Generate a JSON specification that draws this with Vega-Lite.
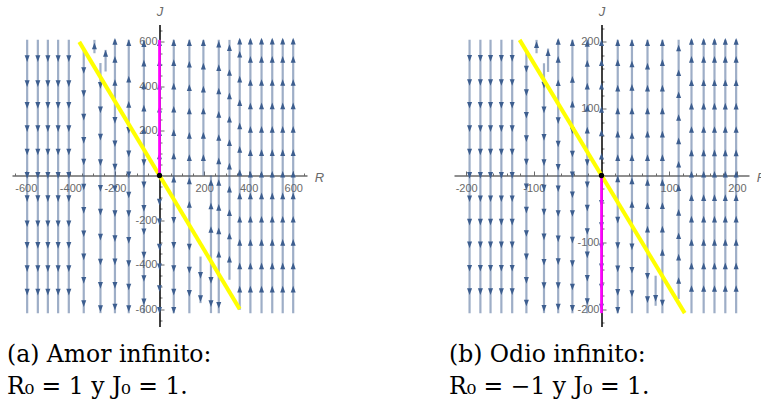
{
"$schema": "https://vega.github.io/schema/vega-lite/v6.json",
"padding": {"left": 7, "top": 5.5, "right": 0, "bottom": 0},
"background": "white",
"config": {"view": {"stroke": null}, "axis": {"grid": false}},
"spacing": 147,
"bounds": "flush",
"resolve": {"scale": {"x": "independent", "y": "independent", "shape": "independent"}},
"datasets": {
"d": [
{"p":"a","k":"s","R":-594,"J":609,"J2":-618},
{"p":"a","k":"s","R":-546,"J":609,"J2":-618},
{"p":"a","k":"s","R":-501,"J":609,"J2":-618},
{"p":"a","k":"s","R":-455,"J":609,"J2":-618},
{"p":"a","k":"s","R":-407,"J":609,"J2":-618},
{"p":"a","k":"s","R":-340,"J":564,"J2":-618},
{"p":"a","k":"s","R":-292,"J":609,"J2":549},
{"p":"a","k":"s","R":-265,"J":505,"J2":-618},
{"p":"a","k":"s","R":-242,"J":564,"J2":467},
{"p":"a","k":"s","R":-200,"J":609,"J2":-618},
{"p":"a","k":"s","R":-138,"J":609,"J2":-618},
{"p":"a","k":"s","R":-70,"J":609,"J2":-618},
{"p":"a","k":"s","R":64,"J":609,"J2":-618},
{"p":"a","k":"s","R":134,"J":609,"J2":-618},
{"p":"a","k":"s","R":197,"J":609,"J2":0},
{"p":"a","k":"s","R":184,"J":-364,"J2":-573},
{"p":"a","k":"s","R":231,"J":0,"J2":-618},
{"p":"a","k":"s","R":266,"J":609,"J2":-618},
{"p":"a","k":"s","R":314,"J":609,"J2":-468},
{"p":"a","k":"s","R":360,"J":609,"J2":-603},
{"p":"a","k":"s","R":408,"J":609,"J2":-618},
{"p":"a","k":"s","R":458,"J":609,"J2":-618},
{"p":"a","k":"s","R":506,"J":609,"J2":-618},
{"p":"a","k":"s","R":553,"J":609,"J2":-618},
{"p":"a","k":"s","R":600,"J":609,"J2":-618},

{"p":"a","k":"a","R":-594,"J":527,"dir":"dn"},{"p":"a","k":"a","R":-594,"J":415,"dir":"dn"},{"p":"a","k":"a","R":-594,"J":317,"dir":"dn"},{"p":"a","k":"a","R":-594,"J":213,"dir":"dn"},{"p":"a","k":"a","R":-594,"J":108,"dir":"dn"},{"p":"a","k":"a","R":-594,"J":3,"dir":"dn"},{"p":"a","k":"a","R":-594,"J":-101,"dir":"dn"},{"p":"a","k":"a","R":-594,"J":-214,"dir":"dn"},{"p":"a","k":"a","R":-594,"J":-311,"dir":"dn"},{"p":"a","k":"a","R":-594,"J":-416,"dir":"dn"},{"p":"a","k":"a","R":-594,"J":-521,"dir":"dn"},
{"p":"a","k":"a","R":-546,"J":527,"dir":"dn"},{"p":"a","k":"a","R":-546,"J":415,"dir":"dn"},{"p":"a","k":"a","R":-546,"J":317,"dir":"dn"},{"p":"a","k":"a","R":-546,"J":213,"dir":"dn"},{"p":"a","k":"a","R":-546,"J":108,"dir":"dn"},{"p":"a","k":"a","R":-546,"J":3,"dir":"dn"},{"p":"a","k":"a","R":-546,"J":-101,"dir":"dn"},{"p":"a","k":"a","R":-546,"J":-214,"dir":"dn"},{"p":"a","k":"a","R":-546,"J":-311,"dir":"dn"},{"p":"a","k":"a","R":-546,"J":-416,"dir":"dn"},{"p":"a","k":"a","R":-546,"J":-521,"dir":"dn"},
{"p":"a","k":"a","R":-501,"J":527,"dir":"dn"},{"p":"a","k":"a","R":-501,"J":415,"dir":"dn"},{"p":"a","k":"a","R":-501,"J":317,"dir":"dn"},{"p":"a","k":"a","R":-501,"J":213,"dir":"dn"},{"p":"a","k":"a","R":-501,"J":108,"dir":"dn"},{"p":"a","k":"a","R":-501,"J":3,"dir":"dn"},{"p":"a","k":"a","R":-501,"J":-101,"dir":"dn"},{"p":"a","k":"a","R":-501,"J":-214,"dir":"dn"},{"p":"a","k":"a","R":-501,"J":-311,"dir":"dn"},{"p":"a","k":"a","R":-501,"J":-416,"dir":"dn"},{"p":"a","k":"a","R":-501,"J":-521,"dir":"dn"},
{"p":"a","k":"a","R":-455,"J":527,"dir":"dn"},{"p":"a","k":"a","R":-455,"J":415,"dir":"dn"},{"p":"a","k":"a","R":-455,"J":317,"dir":"dn"},{"p":"a","k":"a","R":-455,"J":213,"dir":"dn"},{"p":"a","k":"a","R":-455,"J":108,"dir":"dn"},{"p":"a","k":"a","R":-455,"J":3,"dir":"dn"},{"p":"a","k":"a","R":-455,"J":-101,"dir":"dn"},{"p":"a","k":"a","R":-455,"J":-214,"dir":"dn"},{"p":"a","k":"a","R":-455,"J":-311,"dir":"dn"},{"p":"a","k":"a","R":-455,"J":-416,"dir":"dn"},{"p":"a","k":"a","R":-455,"J":-521,"dir":"dn"},
{"p":"a","k":"a","R":-407,"J":527,"dir":"dn"},{"p":"a","k":"a","R":-407,"J":415,"dir":"dn"},{"p":"a","k":"a","R":-407,"J":317,"dir":"dn"},{"p":"a","k":"a","R":-407,"J":213,"dir":"dn"},{"p":"a","k":"a","R":-407,"J":108,"dir":"dn"},{"p":"a","k":"a","R":-407,"J":3,"dir":"dn"},{"p":"a","k":"a","R":-407,"J":-101,"dir":"dn"},{"p":"a","k":"a","R":-407,"J":-214,"dir":"dn"},{"p":"a","k":"a","R":-407,"J":-311,"dir":"dn"},{"p":"a","k":"a","R":-407,"J":-416,"dir":"dn"},{"p":"a","k":"a","R":-407,"J":-521,"dir":"dn"},
{"p":"a","k":"a","R":-340,"J":474,"dir":"dn"},{"p":"a","k":"a","R":-340,"J":370,"dir":"dn"},{"p":"a","k":"a","R":-340,"J":265,"dir":"dn"},{"p":"a","k":"a","R":-340,"J":160,"dir":"dn"},{"p":"a","k":"a","R":-340,"J":63,"dir":"dn"},{"p":"a","k":"a","R":-340,"J":-49,"dir":"dn"},{"p":"a","k":"a","R":-340,"J":-154,"dir":"dn"},{"p":"a","k":"a","R":-340,"J":-259,"dir":"dn"},{"p":"a","k":"a","R":-340,"J":-363,"dir":"dn"},{"p":"a","k":"a","R":-340,"J":-468,"dir":"dn"},{"p":"a","k":"a","R":-340,"J":-573,"dir":"dn"},
{"p":"a","k":"a","R":-292,"J":579,"dir":"up"},
{"p":"a","k":"a","R":-265,"J":407,"dir":"dn"},{"p":"a","k":"a","R":-265,"J":297,"dir":"dn"},{"p":"a","k":"a","R":-265,"J":175,"dir":"dn"},{"p":"a","k":"a","R":-265,"J":60,"dir":"dn"},{"p":"a","k":"a","R":-265,"J":-55,"dir":"dn"},{"p":"a","k":"a","R":-265,"J":-162,"dir":"dn"},{"p":"a","k":"a","R":-265,"J":-274,"dir":"dn"},{"p":"a","k":"a","R":-265,"J":-386,"dir":"dn"},{"p":"a","k":"a","R":-265,"J":-491,"dir":"dn"},{"p":"a","k":"a","R":-265,"J":-595,"dir":"dn"},
{"p":"a","k":"a","R":-242,"J":546,"dir":"up"},
{"p":"a","k":"a","R":-200,"J":600,"dir":"up"},{"p":"a","k":"a","R":-200,"J":519,"dir":"up"},{"p":"a","k":"a","R":-200,"J":415,"dir":"up"},{"p":"a","k":"a","R":-200,"J":250,"dir":"dn"},{"p":"a","k":"a","R":-200,"J":145,"dir":"dn"},{"p":"a","k":"a","R":-200,"J":40,"dir":"dn"},{"p":"a","k":"a","R":-200,"J":-57,"dir":"dn"},{"p":"a","k":"a","R":-200,"J":-169,"dir":"dn"},{"p":"a","k":"a","R":-200,"J":-281,"dir":"dn"},{"p":"a","k":"a","R":-200,"J":-385,"dir":"dn"},{"p":"a","k":"a","R":-200,"J":-491,"dir":"dn"},{"p":"a","k":"a","R":-200,"J":-588,"dir":"dn"},
{"p":"a","k":"a","R":-138,"J":594,"dir":"up"},{"p":"a","k":"a","R":-138,"J":430,"dir":"up"},{"p":"a","k":"a","R":-138,"J":317,"dir":"up"},{"p":"a","k":"a","R":-138,"J":205,"dir":"dn"},{"p":"a","k":"a","R":-138,"J":100,"dir":"dn"},{"p":"a","k":"a","R":-138,"J":5,"dir":"dn"},{"p":"a","k":"a","R":-138,"J":-85,"dir":"dn"},{"p":"a","k":"a","R":-138,"J":-169,"dir":"dn"},{"p":"a","k":"a","R":-138,"J":-289,"dir":"dn"},{"p":"a","k":"a","R":-138,"J":-393,"dir":"dn"},{"p":"a","k":"a","R":-138,"J":-498,"dir":"dn"},{"p":"a","k":"a","R":-138,"J":-595,"dir":"dn"},
{"p":"a","k":"a","R":-70,"J":590,"dir":"up"},{"p":"a","k":"a","R":-70,"J":502,"dir":"up"},{"p":"a","k":"a","R":-70,"J":400,"dir":"up"},{"p":"a","k":"a","R":-70,"J":300,"dir":"up"},{"p":"a","k":"a","R":-70,"J":200,"dir":"up"},{"p":"a","k":"a","R":-70,"J":60,"dir":"dn"},{"p":"a","k":"a","R":-70,"J":-40,"dir":"dn"},{"p":"a","k":"a","R":-70,"J":-145,"dir":"dn"},{"p":"a","k":"a","R":-70,"J":-250,"dir":"dn"},{"p":"a","k":"a","R":-70,"J":-355,"dir":"dn"},{"p":"a","k":"a","R":-70,"J":-460,"dir":"dn"},{"p":"a","k":"a","R":-70,"J":-565,"dir":"dn"},
{"p":"a","k":"a","R":0,"J":594,"dir":"up"},{"p":"a","k":"a","R":0,"J":504,"dir":"up"},{"p":"a","k":"a","R":0,"J":399,"dir":"up"},{"p":"a","k":"a","R":0,"J":295,"dir":"up"},{"p":"a","k":"a","R":0,"J":190,"dir":"up"},{"p":"a","k":"a","R":0,"J":85,"dir":"up"},{"p":"a","k":"a","R":0,"J":-117,"dir":"dn"},{"p":"a","k":"a","R":0,"J":-206,"dir":"dn"},{"p":"a","k":"a","R":0,"J":-319,"dir":"dn"},{"p":"a","k":"a","R":0,"J":-408,"dir":"dn"},{"p":"a","k":"a","R":0,"J":-505,"dir":"dn"},{"p":"a","k":"a","R":0,"J":-603,"dir":"dn"},
{"p":"a","k":"a","R":64,"J":594,"dir":"up"},{"p":"a","k":"a","R":64,"J":504,"dir":"up"},{"p":"a","k":"a","R":64,"J":399,"dir":"up"},{"p":"a","k":"a","R":64,"J":295,"dir":"up"},{"p":"a","k":"a","R":64,"J":190,"dir":"up"},{"p":"a","k":"a","R":64,"J":85,"dir":"up"},{"p":"a","k":"a","R":64,"J":-19,"dir":"up"},{"p":"a","k":"a","R":64,"J":-199,"dir":"dn"},{"p":"a","k":"a","R":64,"J":-311,"dir":"dn"},{"p":"a","k":"a","R":64,"J":-416,"dir":"dn"},{"p":"a","k":"a","R":64,"J":-521,"dir":"dn"},{"p":"a","k":"a","R":64,"J":-603,"dir":"dn"},
{"p":"a","k":"a","R":134,"J":594,"dir":"up"},{"p":"a","k":"a","R":134,"J":497,"dir":"up"},{"p":"a","k":"a","R":134,"J":392,"dir":"up"},{"p":"a","k":"a","R":134,"J":287,"dir":"up"},{"p":"a","k":"a","R":134,"J":178,"dir":"up"},{"p":"a","k":"a","R":134,"J":78,"dir":"up"},{"p":"a","k":"a","R":134,"J":-27,"dir":"up"},{"p":"a","k":"a","R":134,"J":-132,"dir":"up"},{"p":"a","k":"a","R":134,"J":-319,"dir":"dn"},{"p":"a","k":"a","R":134,"J":-422,"dir":"dn"},{"p":"a","k":"a","R":134,"J":-527,"dir":"dn"},
{"p":"a","k":"a","R":197,"J":594,"dir":"up"},{"p":"a","k":"a","R":197,"J":489,"dir":"up"},{"p":"a","k":"a","R":197,"J":385,"dir":"up"},{"p":"a","k":"a","R":197,"J":287,"dir":"up"},{"p":"a","k":"a","R":197,"J":178,"dir":"up"},{"p":"a","k":"a","R":197,"J":78,"dir":"up"},
{"p":"a","k":"a","R":184,"J":-446,"dir":"dn"},{"p":"a","k":"a","R":184,"J":-550,"dir":"dn"},
{"p":"a","k":"a","R":231,"J":-34,"dir":"up"},{"p":"a","k":"a","R":231,"J":-139,"dir":"up"},{"p":"a","k":"a","R":231,"J":-245,"dir":"up"},{"p":"a","k":"a","R":231,"J":-468,"dir":"dn"},{"p":"a","k":"a","R":231,"J":-573,"dir":"dn"},
{"p":"a","k":"a","R":266,"J":587,"dir":"up"},{"p":"a","k":"a","R":266,"J":482,"dir":"up"},{"p":"a","k":"a","R":266,"J":377,"dir":"up"},{"p":"a","k":"a","R":266,"J":272,"dir":"up"},{"p":"a","k":"a","R":266,"J":168,"dir":"up"},{"p":"a","k":"a","R":266,"J":63,"dir":"up"},{"p":"a","k":"a","R":266,"J":-34,"dir":"up"},{"p":"a","k":"a","R":266,"J":-146,"dir":"up"},{"p":"a","k":"a","R":266,"J":-251,"dir":"up"},{"p":"a","k":"a","R":266,"J":-356,"dir":"up"},{"p":"a","k":"a","R":266,"J":-580,"dir":"dn"},
{"p":"a","k":"a","R":314,"J":572,"dir":"up"},{"p":"a","k":"a","R":314,"J":460,"dir":"up"},{"p":"a","k":"a","R":314,"J":355,"dir":"up"},{"p":"a","k":"a","R":314,"J":250,"dir":"up"},{"p":"a","k":"a","R":314,"J":145,"dir":"up"},{"p":"a","k":"a","R":314,"J":40,"dir":"up"},{"p":"a","k":"a","R":314,"J":-64,"dir":"up"},{"p":"a","k":"a","R":314,"J":-169,"dir":"up"},{"p":"a","k":"a","R":314,"J":-274,"dir":"up"},{"p":"a","k":"a","R":314,"J":-378,"dir":"up"},
{"p":"a","k":"a","R":360,"J":601,"dir":"up"},{"p":"a","k":"a","R":360,"J":542,"dir":"up"},{"p":"a","k":"a","R":360,"J":430,"dir":"up"},{"p":"a","k":"a","R":360,"J":325,"dir":"up"},{"p":"a","k":"a","R":360,"J":220,"dir":"up"},{"p":"a","k":"a","R":360,"J":115,"dir":"up"},{"p":"a","k":"a","R":360,"J":11,"dir":"up"},{"p":"a","k":"a","R":360,"J":-94,"dir":"up"},{"p":"a","k":"a","R":360,"J":-199,"dir":"up"},{"p":"a","k":"a","R":360,"J":-303,"dir":"up"},{"p":"a","k":"a","R":360,"J":-408,"dir":"up"},{"p":"a","k":"a","R":360,"J":-513,"dir":"up"},
{"p":"a","k":"a","R":408,"J":601,"dir":"up"},{"p":"a","k":"a","R":408,"J":519,"dir":"up"},{"p":"a","k":"a","R":408,"J":415,"dir":"up"},{"p":"a","k":"a","R":408,"J":310,"dir":"up"},{"p":"a","k":"a","R":408,"J":205,"dir":"up"},{"p":"a","k":"a","R":408,"J":100,"dir":"up"},{"p":"a","k":"a","R":408,"J":3,"dir":"up"},{"p":"a","k":"a","R":408,"J":-94,"dir":"up"},{"p":"a","k":"a","R":408,"J":-199,"dir":"up"},{"p":"a","k":"a","R":408,"J":-303,"dir":"up"},{"p":"a","k":"a","R":408,"J":-408,"dir":"up"},{"p":"a","k":"a","R":408,"J":-513,"dir":"up"},
{"p":"a","k":"a","R":458,"J":601,"dir":"up"},{"p":"a","k":"a","R":458,"J":519,"dir":"up"},{"p":"a","k":"a","R":458,"J":415,"dir":"up"},{"p":"a","k":"a","R":458,"J":310,"dir":"up"},{"p":"a","k":"a","R":458,"J":205,"dir":"up"},{"p":"a","k":"a","R":458,"J":100,"dir":"up"},{"p":"a","k":"a","R":458,"J":3,"dir":"up"},{"p":"a","k":"a","R":458,"J":-94,"dir":"up"},{"p":"a","k":"a","R":458,"J":-199,"dir":"up"},{"p":"a","k":"a","R":458,"J":-303,"dir":"up"},{"p":"a","k":"a","R":458,"J":-408,"dir":"up"},{"p":"a","k":"a","R":458,"J":-513,"dir":"up"},
{"p":"a","k":"a","R":506,"J":601,"dir":"up"},{"p":"a","k":"a","R":506,"J":519,"dir":"up"},{"p":"a","k":"a","R":506,"J":415,"dir":"up"},{"p":"a","k":"a","R":506,"J":310,"dir":"up"},{"p":"a","k":"a","R":506,"J":205,"dir":"up"},{"p":"a","k":"a","R":506,"J":100,"dir":"up"},{"p":"a","k":"a","R":506,"J":3,"dir":"up"},{"p":"a","k":"a","R":506,"J":-94,"dir":"up"},{"p":"a","k":"a","R":506,"J":-199,"dir":"up"},{"p":"a","k":"a","R":506,"J":-303,"dir":"up"},{"p":"a","k":"a","R":506,"J":-408,"dir":"up"},{"p":"a","k":"a","R":506,"J":-513,"dir":"up"},
{"p":"a","k":"a","R":553,"J":601,"dir":"up"},{"p":"a","k":"a","R":553,"J":519,"dir":"up"},{"p":"a","k":"a","R":553,"J":415,"dir":"up"},{"p":"a","k":"a","R":553,"J":310,"dir":"up"},{"p":"a","k":"a","R":553,"J":205,"dir":"up"},{"p":"a","k":"a","R":553,"J":100,"dir":"up"},{"p":"a","k":"a","R":553,"J":3,"dir":"up"},{"p":"a","k":"a","R":553,"J":-94,"dir":"up"},{"p":"a","k":"a","R":553,"J":-199,"dir":"up"},{"p":"a","k":"a","R":553,"J":-303,"dir":"up"},{"p":"a","k":"a","R":553,"J":-408,"dir":"up"},{"p":"a","k":"a","R":553,"J":-513,"dir":"up"},
{"p":"a","k":"a","R":600,"J":601,"dir":"up"},{"p":"a","k":"a","R":600,"J":519,"dir":"up"},{"p":"a","k":"a","R":600,"J":415,"dir":"up"},{"p":"a","k":"a","R":600,"J":310,"dir":"up"},{"p":"a","k":"a","R":600,"J":205,"dir":"up"},{"p":"a","k":"a","R":600,"J":100,"dir":"up"},{"p":"a","k":"a","R":600,"J":3,"dir":"up"},{"p":"a","k":"a","R":600,"J":-94,"dir":"up"},{"p":"a","k":"a","R":600,"J":-199,"dir":"up"},{"p":"a","k":"a","R":600,"J":-303,"dir":"up"},{"p":"a","k":"a","R":600,"J":-408,"dir":"up"},{"p":"a","k":"a","R":600,"J":-513,"dir":"up"},

{"p":"a","k":"y","R":-360,"J":600},
{"p":"a","k":"y","R":360,"J":-600},
{"p":"a","k":"m","R":0,"J":0,"J2":609},
{"p":"a","k":"o","R":0,"J":0},

{"p":"b","k":"s","R":-195,"J":203,"J2":-206},
{"p":"b","k":"s","R":-179,"J":203,"J2":-206},
{"p":"b","k":"s","R":-164,"J":203,"J2":-206},
{"p":"b","k":"s","R":-148,"J":203,"J2":-206},
{"p":"b","k":"s","R":-132,"J":203,"J2":-206},
{"p":"b","k":"s","R":-111,"J":188,"J2":-206},
{"p":"b","k":"s","R":-96,"J":203,"J2":183},
{"p":"b","k":"s","R":-85,"J":168,"J2":-206},
{"p":"b","k":"s","R":-79,"J":190,"J2":155},
{"p":"b","k":"s","R":-64,"J":203,"J2":-206},
{"p":"b","k":"s","R":-43,"J":203,"J2":-206},
{"p":"b","k":"s","R":-21,"J":203,"J2":-206},
{"p":"b","k":"s","R":24,"J":203,"J2":-206},
{"p":"b","k":"s","R":45,"J":203,"J2":-206},
{"p":"b","k":"s","R":68,"J":203,"J2":-206},
{"p":"b","k":"s","R":80,"J":-150,"J2":-195},
{"p":"b","k":"s","R":90,"J":203,"J2":-206},
{"p":"b","k":"s","R":114,"J":203,"J2":-185},
{"p":"b","k":"s","R":133,"J":203,"J2":-206},
{"p":"b","k":"s","R":151,"J":203,"J2":-206},
{"p":"b","k":"s","R":167,"J":203,"J2":-206},
{"p":"b","k":"s","R":183,"J":203,"J2":-206},
{"p":"b","k":"s","R":199,"J":203,"J2":-206},

{"p":"b","k":"a","R":-195,"J":176,"dir":"dn"},{"p":"b","k":"a","R":-195,"J":140,"dir":"dn"},{"p":"b","k":"a","R":-195,"J":106,"dir":"dn"},{"p":"b","k":"a","R":-195,"J":71,"dir":"dn"},{"p":"b","k":"a","R":-195,"J":36,"dir":"dn"},{"p":"b","k":"a","R":-195,"J":1,"dir":"dn"},{"p":"b","k":"a","R":-195,"J":-34,"dir":"dn"},{"p":"b","k":"a","R":-195,"J":-69,"dir":"dn"},{"p":"b","k":"a","R":-195,"J":-103,"dir":"dn"},{"p":"b","k":"a","R":-195,"J":-138,"dir":"dn"},{"p":"b","k":"a","R":-195,"J":-173,"dir":"dn"},
{"p":"b","k":"a","R":-179,"J":176,"dir":"dn"},{"p":"b","k":"a","R":-179,"J":140,"dir":"dn"},{"p":"b","k":"a","R":-179,"J":106,"dir":"dn"},{"p":"b","k":"a","R":-179,"J":71,"dir":"dn"},{"p":"b","k":"a","R":-179,"J":36,"dir":"dn"},{"p":"b","k":"a","R":-179,"J":1,"dir":"dn"},{"p":"b","k":"a","R":-179,"J":-34,"dir":"dn"},{"p":"b","k":"a","R":-179,"J":-69,"dir":"dn"},{"p":"b","k":"a","R":-179,"J":-103,"dir":"dn"},{"p":"b","k":"a","R":-179,"J":-138,"dir":"dn"},{"p":"b","k":"a","R":-179,"J":-173,"dir":"dn"},
{"p":"b","k":"a","R":-164,"J":176,"dir":"dn"},{"p":"b","k":"a","R":-164,"J":140,"dir":"dn"},{"p":"b","k":"a","R":-164,"J":106,"dir":"dn"},{"p":"b","k":"a","R":-164,"J":71,"dir":"dn"},{"p":"b","k":"a","R":-164,"J":36,"dir":"dn"},{"p":"b","k":"a","R":-164,"J":1,"dir":"dn"},{"p":"b","k":"a","R":-164,"J":-34,"dir":"dn"},{"p":"b","k":"a","R":-164,"J":-69,"dir":"dn"},{"p":"b","k":"a","R":-164,"J":-103,"dir":"dn"},{"p":"b","k":"a","R":-164,"J":-138,"dir":"dn"},{"p":"b","k":"a","R":-164,"J":-173,"dir":"dn"},
{"p":"b","k":"a","R":-148,"J":176,"dir":"dn"},{"p":"b","k":"a","R":-148,"J":140,"dir":"dn"},{"p":"b","k":"a","R":-148,"J":106,"dir":"dn"},{"p":"b","k":"a","R":-148,"J":71,"dir":"dn"},{"p":"b","k":"a","R":-148,"J":36,"dir":"dn"},{"p":"b","k":"a","R":-148,"J":1,"dir":"dn"},{"p":"b","k":"a","R":-148,"J":-34,"dir":"dn"},{"p":"b","k":"a","R":-148,"J":-69,"dir":"dn"},{"p":"b","k":"a","R":-148,"J":-103,"dir":"dn"},{"p":"b","k":"a","R":-148,"J":-138,"dir":"dn"},{"p":"b","k":"a","R":-148,"J":-173,"dir":"dn"},
{"p":"b","k":"a","R":-132,"J":176,"dir":"dn"},{"p":"b","k":"a","R":-132,"J":140,"dir":"dn"},{"p":"b","k":"a","R":-132,"J":106,"dir":"dn"},{"p":"b","k":"a","R":-132,"J":71,"dir":"dn"},{"p":"b","k":"a","R":-132,"J":36,"dir":"dn"},{"p":"b","k":"a","R":-132,"J":1,"dir":"dn"},{"p":"b","k":"a","R":-132,"J":-34,"dir":"dn"},{"p":"b","k":"a","R":-132,"J":-69,"dir":"dn"},{"p":"b","k":"a","R":-132,"J":-103,"dir":"dn"},{"p":"b","k":"a","R":-132,"J":-138,"dir":"dn"},{"p":"b","k":"a","R":-132,"J":-173,"dir":"dn"},
{"p":"b","k":"a","R":-111,"J":160,"dir":"dn"},{"p":"b","k":"a","R":-111,"J":125,"dir":"dn"},{"p":"b","k":"a","R":-111,"J":91,"dir":"dn"},{"p":"b","k":"a","R":-111,"J":56,"dir":"dn"},{"p":"b","k":"a","R":-111,"J":21,"dir":"dn"},{"p":"b","k":"a","R":-111,"J":-16,"dir":"dn"},{"p":"b","k":"a","R":-111,"J":-51,"dir":"dn"},{"p":"b","k":"a","R":-111,"J":-86,"dir":"dn"},{"p":"b","k":"a","R":-111,"J":-121,"dir":"dn"},{"p":"b","k":"a","R":-111,"J":-156,"dir":"dn"},{"p":"b","k":"a","R":-111,"J":-190,"dir":"dn"},
{"p":"b","k":"a","R":-96,"J":195,"dir":"up"},
{"p":"b","k":"a","R":-85,"J":136,"dir":"dn"},{"p":"b","k":"a","R":-85,"J":99,"dir":"dn"},{"p":"b","k":"a","R":-85,"J":58,"dir":"dn"},{"p":"b","k":"a","R":-85,"J":20,"dir":"dn"},{"p":"b","k":"a","R":-85,"J":-18,"dir":"dn"},{"p":"b","k":"a","R":-85,"J":-54,"dir":"dn"},{"p":"b","k":"a","R":-85,"J":-91,"dir":"dn"},{"p":"b","k":"a","R":-85,"J":-129,"dir":"dn"},{"p":"b","k":"a","R":-85,"J":-164,"dir":"dn"},{"p":"b","k":"a","R":-85,"J":-198,"dir":"dn"},
{"p":"b","k":"a","R":-79,"J":183,"dir":"up"},
{"p":"b","k":"a","R":-64,"J":200,"dir":"up"},{"p":"b","k":"a","R":-64,"J":173,"dir":"up"},{"p":"b","k":"a","R":-64,"J":138,"dir":"up"},{"p":"b","k":"a","R":-64,"J":83,"dir":"dn"},{"p":"b","k":"a","R":-64,"J":48,"dir":"dn"},{"p":"b","k":"a","R":-64,"J":13,"dir":"dn"},{"p":"b","k":"a","R":-64,"J":-19,"dir":"dn"},{"p":"b","k":"a","R":-64,"J":-56,"dir":"dn"},{"p":"b","k":"a","R":-64,"J":-94,"dir":"dn"},{"p":"b","k":"a","R":-64,"J":-128,"dir":"dn"},{"p":"b","k":"a","R":-64,"J":-164,"dir":"dn"},{"p":"b","k":"a","R":-64,"J":-196,"dir":"dn"},
{"p":"b","k":"a","R":-43,"J":198,"dir":"up"},{"p":"b","k":"a","R":-43,"J":143,"dir":"up"},{"p":"b","k":"a","R":-43,"J":106,"dir":"up"},{"p":"b","k":"a","R":-43,"J":68,"dir":"dn"},{"p":"b","k":"a","R":-43,"J":33,"dir":"dn"},{"p":"b","k":"a","R":-43,"J":2,"dir":"dn"},{"p":"b","k":"a","R":-43,"J":-28,"dir":"dn"},{"p":"b","k":"a","R":-43,"J":-56,"dir":"dn"},{"p":"b","k":"a","R":-43,"J":-96,"dir":"dn"},{"p":"b","k":"a","R":-43,"J":-131,"dir":"dn"},{"p":"b","k":"a","R":-43,"J":-166,"dir":"dn"},{"p":"b","k":"a","R":-43,"J":-198,"dir":"dn"},
{"p":"b","k":"a","R":-21,"J":197,"dir":"up"},{"p":"b","k":"a","R":-21,"J":167,"dir":"up"},{"p":"b","k":"a","R":-21,"J":133,"dir":"up"},{"p":"b","k":"a","R":-21,"J":100,"dir":"up"},{"p":"b","k":"a","R":-21,"J":67,"dir":"up"},{"p":"b","k":"a","R":-21,"J":20,"dir":"dn"},{"p":"b","k":"a","R":-21,"J":-13,"dir":"dn"},{"p":"b","k":"a","R":-21,"J":-48,"dir":"dn"},{"p":"b","k":"a","R":-21,"J":-83,"dir":"dn"},{"p":"b","k":"a","R":-21,"J":-118,"dir":"dn"},{"p":"b","k":"a","R":-21,"J":-153,"dir":"dn"},{"p":"b","k":"a","R":-21,"J":-188,"dir":"dn"},
{"p":"b","k":"a","R":0,"J":198,"dir":"up"},{"p":"b","k":"a","R":0,"J":168,"dir":"up"},{"p":"b","k":"a","R":0,"J":133,"dir":"up"},{"p":"b","k":"a","R":0,"J":98,"dir":"up"},{"p":"b","k":"a","R":0,"J":63,"dir":"up"},{"p":"b","k":"a","R":0,"J":28,"dir":"up"},{"p":"b","k":"a","R":0,"J":-41,"dir":"dn"},{"p":"b","k":"a","R":0,"J":-74,"dir":"dn"},{"p":"b","k":"a","R":0,"J":-106,"dir":"dn"},{"p":"b","k":"a","R":0,"J":-136,"dir":"dn"},{"p":"b","k":"a","R":0,"J":-166,"dir":"dn"},{"p":"b","k":"a","R":0,"J":-196,"dir":"dn"},
{"p":"b","k":"a","R":24,"J":198,"dir":"up"},{"p":"b","k":"a","R":24,"J":168,"dir":"up"},{"p":"b","k":"a","R":24,"J":130,"dir":"up"},{"p":"b","k":"a","R":24,"J":96,"dir":"up"},{"p":"b","k":"a","R":24,"J":61,"dir":"up"},{"p":"b","k":"a","R":24,"J":26,"dir":"up"},{"p":"b","k":"a","R":24,"J":-6,"dir":"up"},{"p":"b","k":"a","R":24,"J":-66,"dir":"dn"},{"p":"b","k":"a","R":24,"J":-104,"dir":"dn"},{"p":"b","k":"a","R":24,"J":-139,"dir":"dn"},{"p":"b","k":"a","R":24,"J":-174,"dir":"dn"},{"p":"b","k":"a","R":24,"J":-201,"dir":"dn"},
{"p":"b","k":"a","R":45,"J":198,"dir":"up"},{"p":"b","k":"a","R":45,"J":166,"dir":"up"},{"p":"b","k":"a","R":45,"J":131,"dir":"up"},{"p":"b","k":"a","R":45,"J":96,"dir":"up"},{"p":"b","k":"a","R":45,"J":59,"dir":"up"},{"p":"b","k":"a","R":45,"J":26,"dir":"up"},{"p":"b","k":"a","R":45,"J":-9,"dir":"up"},{"p":"b","k":"a","R":45,"J":-44,"dir":"up"},{"p":"b","k":"a","R":45,"J":-106,"dir":"dn"},{"p":"b","k":"a","R":45,"J":-141,"dir":"dn"},{"p":"b","k":"a","R":45,"J":-176,"dir":"dn"},
{"p":"b","k":"a","R":68,"J":198,"dir":"up"},{"p":"b","k":"a","R":68,"J":163,"dir":"up"},{"p":"b","k":"a","R":68,"J":130,"dir":"up"},{"p":"b","k":"a","R":68,"J":96,"dir":"up"},{"p":"b","k":"a","R":68,"J":61,"dir":"up"},{"p":"b","k":"a","R":68,"J":26,"dir":"up"},{"p":"b","k":"a","R":68,"J":-11,"dir":"up"},{"p":"b","k":"a","R":68,"J":-46,"dir":"up"},{"p":"b","k":"a","R":68,"J":-81,"dir":"up"},{"p":"b","k":"a","R":68,"J":-150,"dir":"dn"},{"p":"b","k":"a","R":68,"J":-185,"dir":"dn"},
{"p":"b","k":"a","R":80,"J":-183,"dir":"dn"},
{"p":"b","k":"a","R":90,"J":198,"dir":"up"},{"p":"b","k":"a","R":90,"J":168,"dir":"up"},{"p":"b","k":"a","R":90,"J":130,"dir":"up"},{"p":"b","k":"a","R":90,"J":96,"dir":"up"},{"p":"b","k":"a","R":90,"J":61,"dir":"up"},{"p":"b","k":"a","R":90,"J":26,"dir":"up"},{"p":"b","k":"a","R":90,"J":-11,"dir":"up"},{"p":"b","k":"a","R":90,"J":-46,"dir":"up"},{"p":"b","k":"a","R":90,"J":-81,"dir":"up"},{"p":"b","k":"a","R":90,"J":-116,"dir":"up"},{"p":"b","k":"a","R":90,"J":-190,"dir":"dn"},
{"p":"b","k":"a","R":114,"J":190,"dir":"up"},{"p":"b","k":"a","R":114,"J":153,"dir":"up"},{"p":"b","k":"a","R":114,"J":120,"dir":"up"},{"p":"b","k":"a","R":114,"J":86,"dir":"up"},{"p":"b","k":"a","R":114,"J":51,"dir":"up"},{"p":"b","k":"a","R":114,"J":16,"dir":"up"},{"p":"b","k":"a","R":114,"J":-19,"dir":"up"},{"p":"b","k":"a","R":114,"J":-56,"dir":"up"},{"p":"b","k":"a","R":114,"J":-91,"dir":"up"},{"p":"b","k":"a","R":114,"J":-123,"dir":"up"},{"p":"b","k":"a","R":114,"J":-158,"dir":"up"},
{"p":"b","k":"a","R":133,"J":200,"dir":"up"},{"p":"b","k":"a","R":133,"J":173,"dir":"up"},{"p":"b","k":"a","R":133,"J":138,"dir":"up"},{"p":"b","k":"a","R":133,"J":103,"dir":"up"},{"p":"b","k":"a","R":133,"J":68,"dir":"up"},{"p":"b","k":"a","R":133,"J":33,"dir":"up"},{"p":"b","k":"a","R":133,"J":1,"dir":"up"},{"p":"b","k":"a","R":133,"J":-34,"dir":"up"},{"p":"b","k":"a","R":133,"J":-66,"dir":"up"},{"p":"b","k":"a","R":133,"J":-101,"dir":"up"},{"p":"b","k":"a","R":133,"J":-136,"dir":"up"},{"p":"b","k":"a","R":133,"J":-170,"dir":"up"},
{"p":"b","k":"a","R":151,"J":200,"dir":"up"},{"p":"b","k":"a","R":151,"J":173,"dir":"up"},{"p":"b","k":"a","R":151,"J":138,"dir":"up"},{"p":"b","k":"a","R":151,"J":103,"dir":"up"},{"p":"b","k":"a","R":151,"J":68,"dir":"up"},{"p":"b","k":"a","R":151,"J":33,"dir":"up"},{"p":"b","k":"a","R":151,"J":1,"dir":"up"},{"p":"b","k":"a","R":151,"J":-34,"dir":"up"},{"p":"b","k":"a","R":151,"J":-66,"dir":"up"},{"p":"b","k":"a","R":151,"J":-101,"dir":"up"},{"p":"b","k":"a","R":151,"J":-136,"dir":"up"},{"p":"b","k":"a","R":151,"J":-170,"dir":"up"},
{"p":"b","k":"a","R":167,"J":200,"dir":"up"},{"p":"b","k":"a","R":167,"J":173,"dir":"up"},{"p":"b","k":"a","R":167,"J":138,"dir":"up"},{"p":"b","k":"a","R":167,"J":103,"dir":"up"},{"p":"b","k":"a","R":167,"J":68,"dir":"up"},{"p":"b","k":"a","R":167,"J":33,"dir":"up"},{"p":"b","k":"a","R":167,"J":1,"dir":"up"},{"p":"b","k":"a","R":167,"J":-34,"dir":"up"},{"p":"b","k":"a","R":167,"J":-66,"dir":"up"},{"p":"b","k":"a","R":167,"J":-101,"dir":"up"},{"p":"b","k":"a","R":167,"J":-136,"dir":"up"},{"p":"b","k":"a","R":167,"J":-170,"dir":"up"},
{"p":"b","k":"a","R":183,"J":200,"dir":"up"},{"p":"b","k":"a","R":183,"J":173,"dir":"up"},{"p":"b","k":"a","R":183,"J":138,"dir":"up"},{"p":"b","k":"a","R":183,"J":103,"dir":"up"},{"p":"b","k":"a","R":183,"J":68,"dir":"up"},{"p":"b","k":"a","R":183,"J":33,"dir":"up"},{"p":"b","k":"a","R":183,"J":1,"dir":"up"},{"p":"b","k":"a","R":183,"J":-34,"dir":"up"},{"p":"b","k":"a","R":183,"J":-66,"dir":"up"},{"p":"b","k":"a","R":183,"J":-101,"dir":"up"},{"p":"b","k":"a","R":183,"J":-136,"dir":"up"},{"p":"b","k":"a","R":183,"J":-170,"dir":"up"},
{"p":"b","k":"a","R":199,"J":200,"dir":"up"},{"p":"b","k":"a","R":199,"J":173,"dir":"up"},{"p":"b","k":"a","R":199,"J":138,"dir":"up"},{"p":"b","k":"a","R":199,"J":103,"dir":"up"},{"p":"b","k":"a","R":199,"J":68,"dir":"up"},{"p":"b","k":"a","R":199,"J":33,"dir":"up"},{"p":"b","k":"a","R":199,"J":1,"dir":"up"},{"p":"b","k":"a","R":199,"J":-34,"dir":"up"},{"p":"b","k":"a","R":199,"J":-66,"dir":"up"},{"p":"b","k":"a","R":199,"J":-101,"dir":"up"},{"p":"b","k":"a","R":199,"J":-136,"dir":"up"},{"p":"b","k":"a","R":199,"J":-170,"dir":"up"},

{"p":"b","k":"y","R":-121,"J":203},
{"p":"b","k":"y","R":123,"J":-206},
{"p":"b","k":"m","R":0,"J":0,"J2":-206},
{"p":"b","k":"o","R":0,"J":0}
]
},
"hconcat": [
{
"width": 295, "height": 302,
"data": {"name": "d"},
"transform": [{"filter": "datum.p === 'a'"}],
"title": {"text": ["(a) Amor infinito:", "R₀ = 1 y J₀ = 1."], "orient": "bottom", "anchor": "start", "frame": "group", "align": "left", "baseline": "top", "dx": -5, "offset": 16, "font": "DejaVu Serif", "fontSize": 23.5, "fontWeight": "normal", "color": "#000000", "lineHeight": 32},
"encoding": {
"x": {"field": "R", "type": "quantitative", "scale": {"domain": [-662, 662], "nice": false, "zero": false},
 "axis": {"orient": "bottom", "offset": -151, "values": [-650,-600,-550,-500,-450,-400,-350,-300,-250,-200,-150,-100,-50,50,100,150,200,250,300,350,400,450,500,550,600,650],
  "labelExpr": "datum.value % 200 === 0 ? '' + datum.value : ''", "labelFlush": false, "labelOverlap": false, "labelBound": false,
  "labelFont": "Liberation Sans", "labelFontSize": 11, "labelColor": "#6a6a6a", "labelPadding": 11.5, "labelBaseline": "top", "labelAlign": "center",
  "tickSize": {"condition": {"test": "datum.value % 200 === 0", "value": -4.5}, "value": -2.5}, "tickColor": "#6a6a6a", "tickWidth": 1,
  "domainColor": "#6a6a6a", "domainWidth": 1.5,
  "title": "R", "titleX": 307, "titleY": 2, "titleAlign": "center", "titleBaseline": "middle", "titleAngle": 0, "titleFont": "Liberation Sans", "titleFontSize": 13, "titleFontStyle": "italic", "titleFontWeight": "normal", "titleColor": "#6a6a6a"}},
"y": {"field": "J", "type": "quantitative", "scale": {"domain": [-678, 678], "nice": false, "zero": false},
 "axis": {"orient": "left", "offset": -147.5, "values": [-650,-600,-550,-500,-450,-400,-350,-300,-250,-200,-150,-100,-50,50,100,150,200,250,300,350,400,450,500,550,600,650],
  "labelExpr": "datum.value % 200 === 0 ? '' + datum.value : ''", "labelFlush": false, "labelOverlap": false, "labelBound": false,
  "labelFont": "Liberation Sans", "labelFontSize": 11, "labelColor": "#6a6a6a", "labelPadding": 7, "labelBaseline": "middle", "labelAlign": "right",
  "tickSize": {"condition": {"test": "datum.value % 200 === 0", "value": -4.5}, "value": -2.5}, "tickColor": "#6a6a6a", "tickWidth": 1,
  "domainColor": "#000000", "domainWidth": 1.5,
  "title": "J", "titleX": 0, "titleY": -13, "titleAlign": "center", "titleBaseline": "middle", "titleAngle": 0, "titleFont": "Liberation Sans", "titleFontSize": 13, "titleFontStyle": "italic", "titleFontWeight": "normal", "titleColor": "#6a6a6a"}}
},
"layer": [
{"transform": [{"filter": "datum.k === 's'"}], "mark": {"type": "rule", "color": "#3d5e8f", "opacity": 0.5, "strokeWidth": 2.2}, "encoding": {"y2": {"field": "J2"}}},
{"transform": [{"filter": "datum.k === 'a'"}], "mark": {"type": "point", "filled": true, "opacity": 1, "color": "#3d5e8f", "size": 31}, "encoding": {"shape": {"field": "dir", "type": "nominal", "scale": {"domain": ["up", "dn"], "range": ["M0,-1.4L0.9,1L-0.9,1Z", "M0,1.4L0.9,-1L-0.9,-1Z"]}, "legend": null}}},
{"transform": [{"filter": "datum.k === 'y'"}], "mark": {"type": "line", "color": "#ffff00", "strokeWidth": 4}, "encoding": {}},
{"transform": [{"filter": "datum.k === 'm'"}], "mark": {"type": "rule", "color": "#ff00ff", "strokeWidth": 2.7}, "encoding": {"y2": {"field": "J2"}}},
{"transform": [{"filter": "datum.k === 'o'"}], "mark": {"type": "point", "filled": true, "shape": "circle", "color": "#000000", "opacity": 1, "size": 28}, "encoding": {}}
]
},
{
"width": 295, "height": 302,
"data": {"name": "d"},
"transform": [{"filter": "datum.p === 'b'"}],
"title": {"text": ["(b) Odio infinito:", "R₀ = −1 y J₀ = 1."], "orient": "bottom", "anchor": "start", "frame": "group", "align": "left", "baseline": "top", "dx": -5, "offset": 16, "font": "DejaVu Serif", "fontSize": 23.5, "fontWeight": "normal", "color": "#000000", "lineHeight": 32},
"encoding": {
"x": {"field": "R", "type": "quantitative", "scale": {"domain": [-218, 218], "nice": false, "zero": false},
 "axis": {"orient": "bottom", "offset": -151, "values": [-200,-180,-160,-140,-120,-100,-80,-60,-40,-20,20,40,60,80,100,120,140,160,180,200],
  "labelExpr": "datum.value % 100 === 0 ? '' + datum.value : ''", "labelFlush": false, "labelOverlap": false, "labelBound": false,
  "labelFont": "Liberation Sans", "labelFontSize": 11, "labelColor": "#6a6a6a", "labelPadding": 11.5, "labelBaseline": "top", "labelAlign": "center",
  "tickSize": {"condition": {"test": "datum.value % 100 === 0", "value": -4.5}, "value": -2.5}, "tickColor": "#6a6a6a", "tickWidth": 1,
  "domainColor": "#6a6a6a", "domainWidth": 1.5,
  "title": "R", "titleX": 307, "titleY": 2, "titleAlign": "center", "titleBaseline": "middle", "titleAngle": 0, "titleFont": "Liberation Sans", "titleFontSize": 13, "titleFontStyle": "italic", "titleFontWeight": "normal", "titleColor": "#6a6a6a"}},
"y": {"field": "J", "type": "quantitative", "scale": {"domain": [-226, 226], "nice": false, "zero": false},
 "axis": {"orient": "left", "offset": -147.5, "values": [-220,-200,-180,-160,-140,-120,-100,-80,-60,-40,-20,20,40,60,80,100,120,140,160,180,200,220],
  "labelExpr": "datum.value % 100 === 0 ? '' + datum.value : ''", "labelFlush": false, "labelOverlap": false, "labelBound": false,
  "labelFont": "Liberation Sans", "labelFontSize": 11, "labelColor": "#6a6a6a", "labelPadding": 7, "labelBaseline": "middle", "labelAlign": "right",
  "tickSize": {"condition": {"test": "datum.value % 100 === 0", "value": -4.5}, "value": -2.5}, "tickColor": "#6a6a6a", "tickWidth": 1,
  "domainColor": "#000000", "domainWidth": 1.5,
  "title": "J", "titleX": 0, "titleY": -13, "titleAlign": "center", "titleBaseline": "middle", "titleAngle": 0, "titleFont": "Liberation Sans", "titleFontSize": 13, "titleFontStyle": "italic", "titleFontWeight": "normal", "titleColor": "#6a6a6a"}}
},
"layer": [
{"transform": [{"filter": "datum.k === 's'"}], "mark": {"type": "rule", "color": "#3d5e8f", "opacity": 0.5, "strokeWidth": 2.2}, "encoding": {"y2": {"field": "J2"}}},
{"transform": [{"filter": "datum.k === 'a'"}], "mark": {"type": "point", "filled": true, "opacity": 1, "color": "#3d5e8f", "size": 31}, "encoding": {"shape": {"field": "dir", "type": "nominal", "scale": {"domain": ["up", "dn"], "range": ["M0,-1.4L0.9,1L-0.9,1Z", "M0,1.4L0.9,-1L-0.9,-1Z"]}, "legend": null}}},
{"transform": [{"filter": "datum.k === 'y'"}], "mark": {"type": "line", "color": "#ffff00", "strokeWidth": 4}, "encoding": {}},
{"transform": [{"filter": "datum.k === 'm'"}], "mark": {"type": "rule", "color": "#ff00ff", "strokeWidth": 2.7}, "encoding": {"y2": {"field": "J2"}}},
{"transform": [{"filter": "datum.k === 'o'"}], "mark": {"type": "point", "filled": true, "shape": "circle", "color": "#000000", "opacity": 1, "size": 28}, "encoding": {}}
]
}
]
}
